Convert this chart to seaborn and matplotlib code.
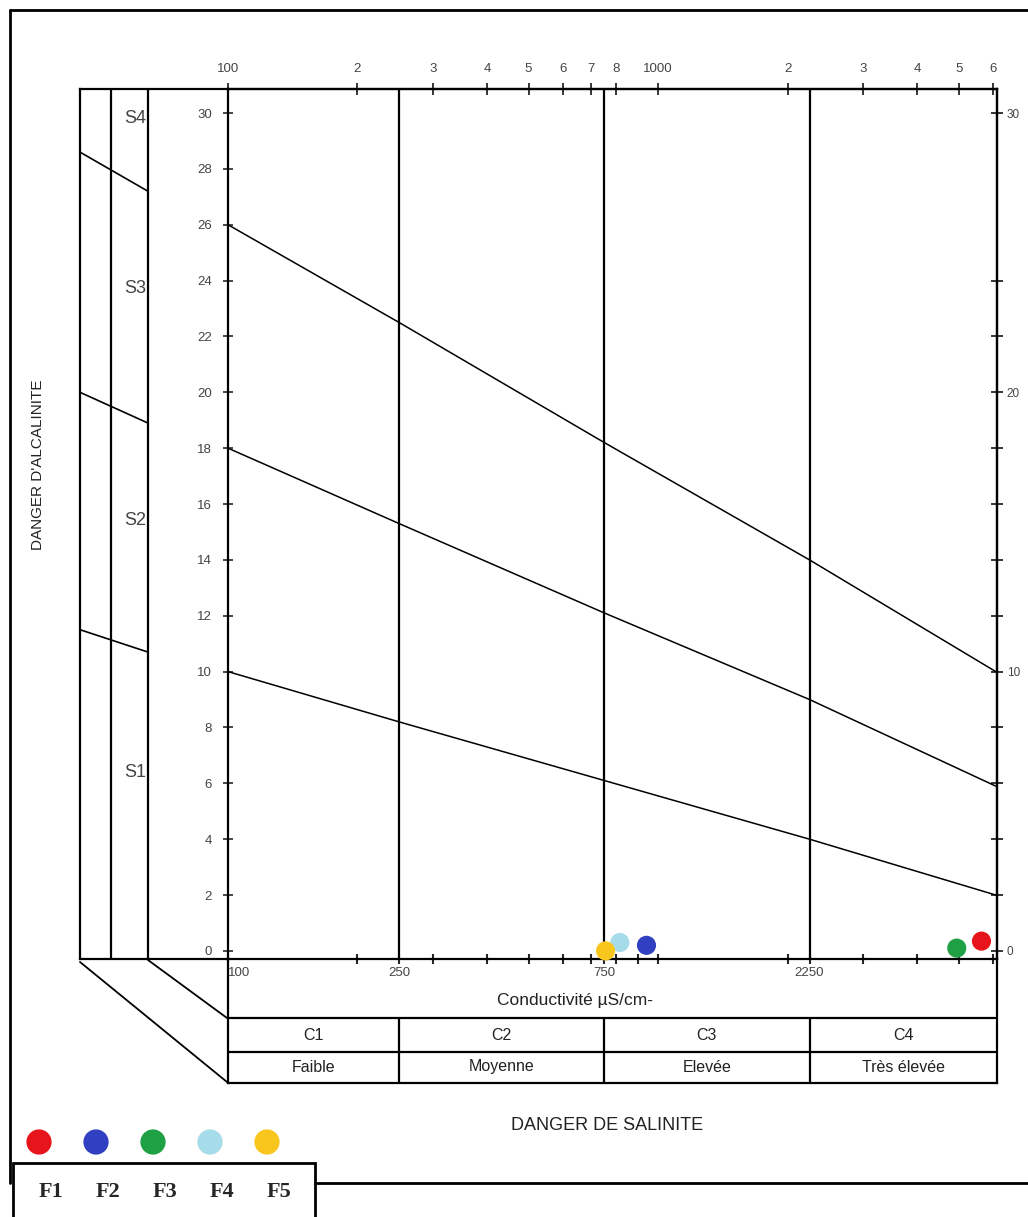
import numpy as np
import pandas as pd
import matplotlib
matplotlib.use('Agg')
import matplotlib.pyplot as plt
from matplotlib.ticker import NullFormatter, NullLocator
import matplotlib.transforms as mtransforms
import seaborn as sns

# SAR limits between sodium classes, read along the conductivity axis
cond_pts = [100, 250, 750, 2250, 6100]
sar_s1_s2 = [10.0, 8.2, 6.1, 4.0, 2.0]
sar_s2_s3 = [18.0, 15.3, 12.1, 9.0, 5.9]
sar_s3_s4 = [26.0, 22.5, 18.2, 14.0, 10.0]

# same limits in the left (projection) panel
panel_sar_left = [11.5, 20.0, 28.6]
panel_sar_right = [10.7, 18.9, 27.2]
s_labels = ['S1', 'S2', 'S3', 'S4']
s_label_sar = [6.4, 15.4, 23.7, 29.8]

# salinity classes
class_bounds = [100, 250, 750, 2250, 6140]
c_classes = ['C1', 'C2', 'C3', 'C4']
c_levels = ['Faible', 'Moyenne', 'Elevée', 'Très élevée']

# samples
sites = ['F1', 'F2', 'F3', 'F4', 'F5']
conductivity = [5650, 940, 4950, 815, 755]
sar = [0.35, 0.2, 0.1, 0.3, 0.0]
colors = ['#e8141c', '#3040c0', '#1fa045', '#a6dbe9', '#f9c61e']

# axis ticks
top_ticks = [100, 200, 300, 400, 500, 600, 700, 800, 1000, 2000, 3000, 4000, 5000, 6000]
top_labels = ['100', '2', '3', '4', '5', '6', '7', '8', '1000', '2', '3', '4', '5', '6']
bottom_ticks = [100, 250, 750, 2250]
bottom_labels = ['100', '250', '750', '2250']
bottom_minor = [200, 300, 400, 500, 600, 700, 800, 900, 1000, 2000, 3000, 4000, 5000, 6000]
left_ticks = list(range(0, 31, 2))
right_ticks = list(range(0, 25, 2)) + [30]
right_labels = [str(t) if t % 10 == 0 else '' for t in right_ticks]

sns.set_style('ticks', {'axes.edgecolor': 'black'})
plt.rcParams['font.family'] = ['Liberation Sans', 'DejaVu Sans']

W, H = 1028, 1217
fig = plt.figure(figsize=(W / 100, H / 100), dpi=100)


def rect(x0, y0, x1, y1):
    return [x0 / W, 1 - y1 / H, (x1 - x0) / W, (y1 - y0) / H]


grey = '#444444'
lw = 1.6
xmax = class_bounds[-1]
ylim = (-0.29, 30.86)

# overlay for frame and titles
ov = fig.add_axes([0, 0, 1, 1])
ov.set_xlim(0, W)
ov.set_ylim(H, 0)
ov.axis('off')
ov.plot([10, W], [10, 10], color='black', lw=2)
ov.plot([10, 10], [10, 1183], color='black', lw=2)
ov.plot([315, W], [1183, 1183], color='black', lw=2)
ov.plot([80, 227], [962, 1082], color='black', lw=1.3)
ov.plot([148, 227], [960, 1018], color='black', lw=1.3)
ov.text(38, 465, "DANGER D'ALCALINITE", rotation=90, ha='center', va='center',
        fontsize=11, color='#222')
ov.text(607, 1125, 'DANGER DE SALINITE', ha='center', va='center',
        fontsize=13, color='#222')

# legend
ov.add_patch(plt.Rectangle((13, 1163), 302, 60, facecolor='white',
                           edgecolor='black', lw=2))
leg_x = 39 + 57 * np.arange(len(sites))
sns.scatterplot(x=leg_x, y=[1142] * len(sites), hue=sites, palette=colors,
                s=330, edgecolor='none', legend=False, ax=ov)
for xx, name in zip(leg_x, sites):
    ov.text(xx + 12, 1192, name, ha='center', va='center', fontsize=16,
            fontweight='bold', family='Liberation Serif')
ov.set_xlim(0, W)
ov.set_ylim(H, 0)

# main diagram
ax = fig.add_axes(rect(228, 89, 997, 959))
ax.set_facecolor('none')
ax.set_xscale('log')

lines = pd.DataFrame({
    'conductivity': cond_pts * 3,
    'sar': sar_s1_s2 + sar_s2_s3 + sar_s3_s4,
    'limit': ['S1/S2'] * 5 + ['S2/S3'] * 5 + ['S3/S4'] * 5,
})
sns.lineplot(data=lines, x='conductivity', y='sar', units='limit', estimator=None,
             sort=False, color='black', lw=1.1, ax=ax)
for b in class_bounds[1:-1]:
    ax.axvline(b, color='black', lw=lw)

samples = pd.DataFrame({'site': sites, 'conductivity': conductivity, 'sar': sar})
sns.scatterplot(data=samples, x='conductivity', y='sar', hue='site', palette=colors,
                s=190, edgecolor='none', legend=False, ax=ax, clip_on=False, zorder=5)

ax.set_xlim(100, xmax)
ax.set_ylim(*ylim)
ax.set_xlabel('')
ax.set_ylabel('')
for sp in ax.spines.values():
    sp.set_linewidth(lw)

ax.set_yticks(left_ticks, labels=[str(t) for t in left_ticks])
ax.tick_params(axis='y', left=True, right=False, direction='inout', length=7,
               width=1.2, labelsize=9.5, labelcolor=grey, pad=8)
ax.set_xticks(bottom_ticks, labels=bottom_labels)
ax.set_xticks(bottom_minor, minor=True)
ax.xaxis.set_minor_formatter(NullFormatter())
ax.tick_params(axis='x', which='both', bottom=True, top=False, direction='inout',
               length=7, width=1.5, labelsize=9.5, labelcolor=grey, pad=2)
ax.get_xticklabels()[0].set_ha('left')

top = ax.secondary_xaxis('top')
top.set_xticks(top_ticks, labels=top_labels)
top.xaxis.set_minor_locator(NullLocator())
top.tick_params(direction='inout', length=8, width=1.3, labelsize=9.5,
                labelcolor=grey, pad=6)
top.spines['top'].set_linewidth(lw)

right = ax.secondary_yaxis('right')
right.set_yticks(right_ticks, labels=right_labels)
right.tick_params(direction='inout', length=8, width=1.3, labelsize=8.5,
                  labelcolor=grey, pad=3)
right.spines['right'].set_linewidth(lw)

# left projection panel
lp = fig.add_axes(rect(80, 89, 228, 959))
lp.set_facecolor('none')
lp.set_xlim(0, 1)
lp.set_ylim(*ylim)
lp.set_xticks([])
lp.set_yticks([])
lp.spines['right'].set_visible(False)
for side in ['left', 'top', 'bottom']:
    lp.spines[side].set_linewidth(lw)
for xv in [0.209, 0.459]:
    lp.axvline(xv, color='black', lw=lw)
for yl, yr in zip(panel_sar_left, panel_sar_right):
    lp.plot([0, 0.459], [yl, yr], color='black', lw=1.2)
for lab, yy in zip(s_labels, s_label_sar):
    lp.text(0.37, yy, lab, ha='center', va='center', fontsize=13, color=grey)

# salinity class table
tb = fig.add_axes(rect(228, 959, 997, 1083))
tb.set_facecolor('none')
tb.set_xscale('log')
tb.set_xlim(100, xmax)
tb.set_ylim(124, 0)
tb.set_xticks([])
tb.set_yticks([])
tb.xaxis.set_minor_locator(NullLocator())
tb.spines['top'].set_visible(False)
for side in ['left', 'right', 'bottom']:
    tb.spines[side].set_linewidth(lw)
tb.axhline(59, color='black', lw=lw)
tb.axhline(93, color='black', lw=lw)
tb.vlines(class_bounds[1:-1], 59, 124, color='black', lw=lw)
trans = mtransforms.blended_transform_factory(tb.transAxes, tb.transData)
tb.text(0.451, 42, 'Conductivité µS/cm-', transform=trans, ha='center',
        va='center', fontsize=12.5, color='#222')
for lo, hi, cl, lv in zip(class_bounds[:-1], class_bounds[1:], c_classes, c_levels):
    xc = np.sqrt(lo * hi)
    tb.text(xc, 76, cl, ha='center', va='center', fontsize=11.5, color='#222')
    tb.text(xc, 108, lv, ha='center', va='center', fontsize=11.5, color='#222')

fig.savefig('out.png', dpi=100)
